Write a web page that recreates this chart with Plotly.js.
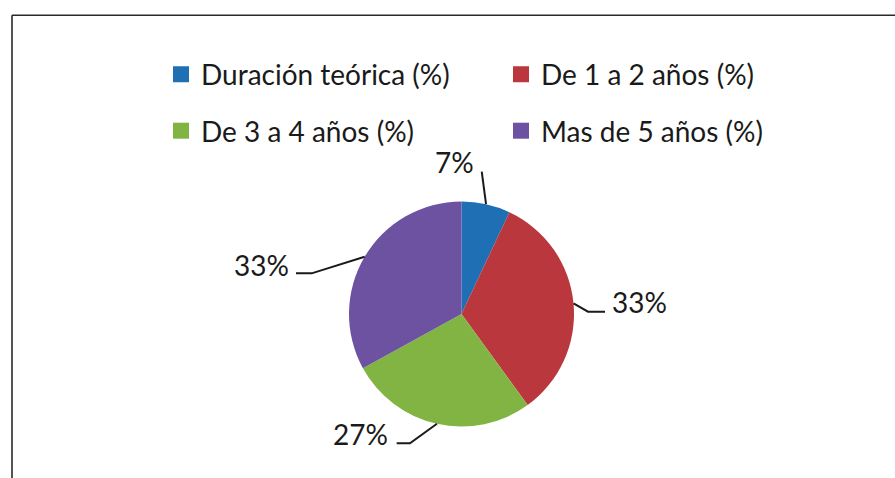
<!DOCTYPE html>
<html><head><meta charset="utf-8">
<script src="https://cdn.plot.ly/plotly-3.0.1.min.js"></script>
<style>html,body{margin:0;padding:0;background:#fff}#chart{width:895px;height:478px}</style>
</head><body><div id="chart"></div>
<script>
// ---- data ----
const categories = ['Duración teórica (%)', 'De 1 a 2 años (%)', 'De 3 a 4 años (%)', 'Mas de 5 años (%)'];
const percentages = [7, 33, 27, 33];
const sliceLabels = ['7%', '33%', '27%', '33%'];
const legendRow = ['legend', 'legend', 'legend2', 'legend2'];

// ---- style / layout ----
const colors = ['#1f6fb5', '#b9373d', '#82b443', '#6c52a0'];
const W = 895, H = 478;
const FONT = 'Lato, "Open Sans", sans-serif';
const TXT = '#1a1a1a';
const pieDomain = {x: [349 / W, 574 / W], y: [1 - 426.5 / H, 1 - 201.5 / H]};
// leader line bend points, px offsets from the slice's outer edge point
const leaderPts = [
  [[0, 0], [-4.3, -32.5]],
  [[0, 0], [14.5, 8.3], [31.5, 8.3]],
  [[0, 0], [-27, 19.5], [-40.3, 19.5]],
  [[0, 0], [-53, 16.6], [-68.7, 16.6]]
];
// label offset from leader end: dx, dy, xanchor
const labelOffset = [[-6, -10, 'right'], [5, -10, 'left'], [-6.7, -9, 'right'], [-5.3, -8, 'right']];

const cx = (pieDomain.x[0] + pieDomain.x[1]) / 2 * W;
const cy = H * (1 - (pieDomain.y[0] + pieDomain.y[1]) / 2);
const r = Math.min((pieDomain.x[1] - pieDomain.x[0]) * W, (pieDomain.y[1] - pieDomain.y[0]) * H) / 2;
const total = percentages.reduce((a, b) => a + b, 0);

const px = x => x / W, py = y => 1 - y / H;
const shapes = [
  {type: 'line', xref: 'paper', yref: 'paper', x0: px(12), x1: px(900), y0: py(15.3), y1: py(15.3), line: {color: '#2a2a2a', width: 1.6}},
  {type: 'line', xref: 'paper', yref: 'paper', x0: px(12), x1: px(12), y0: py(15.3), y1: py(490), line: {color: '#2a2a2a', width: 1.6}}
];
const annotations = [];
let cum = 0;
percentages.forEach((v, i) => {
  const mid = (cum + v / 2) / total * 2 * Math.PI;
  cum += v;
  const ex = cx + r * Math.sin(mid), ey = cy - r * Math.cos(mid);
  const pts = leaderPts[i].map(p => [ex + p[0], ey + p[1]]);
  const path = pts.map((p, k) => (k ? 'L' : 'M') + px(p[0]).toFixed(5) + ',' + py(p[1]).toFixed(5)).join(' ');
  shapes.push({type: 'path', xref: 'paper', yref: 'paper', path: path, line: {color: '#1a1a1a', width: 2}});
  const end = pts[pts.length - 1];
  const o = labelOffset[i];
  annotations.push({
    xref: 'paper', yref: 'paper', x: px(end[0] + o[0]), y: py(end[1] + o[1]),
    xanchor: o[2], yanchor: 'middle', showarrow: false, text: sliceLabels[i],
    font: {family: FONT, size: 28, color: TXT}
  });
});

const traces = [{
  type: 'pie', values: percentages, labels: categories, sort: false, direction: 'clockwise', rotation: 0,
  marker: {colors: colors, line: {width: 0}}, textinfo: 'none', showlegend: false, hoverinfo: 'label+percent',
  domain: pieDomain
}];
categories.forEach((c, i) => traces.push({
  type: 'scatter', x: [null], y: [null], mode: 'markers', name: c, legend: legendRow[i],
  marker: {symbol: 'square', size: 16, color: colors[i]}, hoverinfo: 'skip'
}));

const legendBase = {
  orientation: 'h', x: 161 / W, xanchor: 'left', yanchor: 'middle',
  entrywidth: 295, entrywidthmode: 'pixels', bgcolor: 'rgba(0,0,0,0)',
  font: {family: FONT, size: 28, color: TXT}
};
const layout = {
  width: W, height: H, margin: {l: 0, r: 0, t: 0, b: 0},
  paper_bgcolor: '#ffffff', plot_bgcolor: '#ffffff',
  xaxis: {visible: false}, yaxis: {visible: false},
  legend: Object.assign({}, legendBase, {y: py(74.5)}),
  legend2: Object.assign({}, legendBase, {y: py(131)}),
  shapes: shapes, annotations: annotations
};
Plotly.newPlot('chart', traces, layout, {displayModeBar: false, staticPlot: true});
</script>
</body></html>
